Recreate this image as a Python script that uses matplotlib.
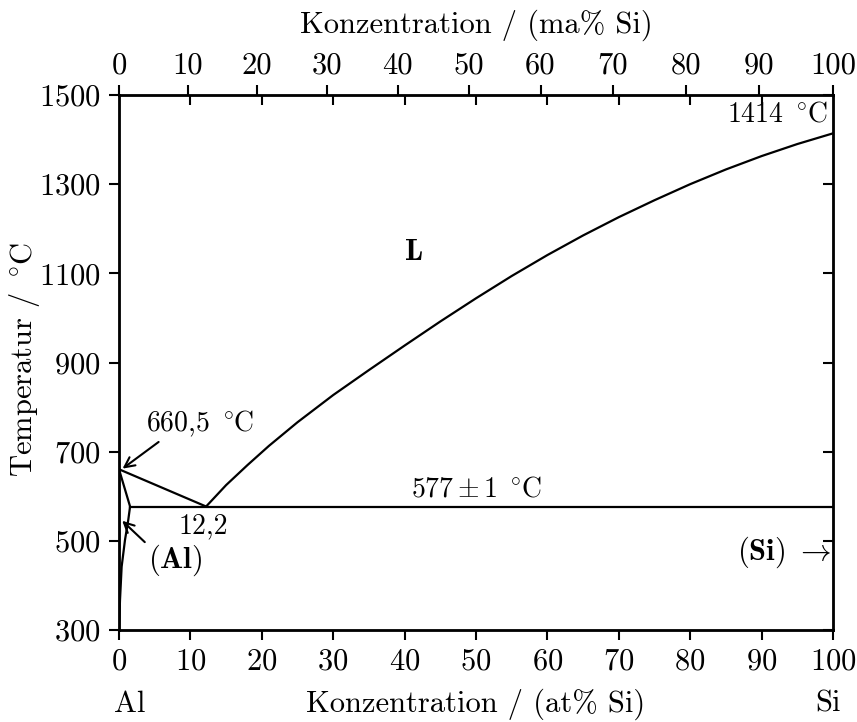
import numpy as np
from matplotlib import pyplot as plt

plt.rcParams['font.family'] = ['cmr10']
plt.rcParams['mathtext.fontset'] = 'cm'
plt.rcParams['axes.formatter.use_mathtext'] = True

# liquidus, Al side (at% Si, degC)
liq_al_x = [0, 12.2]
liq_al_t = [660.5, 577]
# liquidus, Si side
liq_si_x = [12.2, 15, 18, 21, 25, 30, 35, 40, 45, 50, 55, 60, 65, 70, 75, 80, 85, 90, 95, 100]
liq_si_t = [577, 625, 670, 713, 766, 827, 883, 938, 992, 1044, 1094, 1141, 1185, 1226,
            1264, 1300, 1333, 1363, 1390, 1414]
# solidus + solvus of (Al)
sol_x = [0, 1.55, 1.3, 0.84, 0.37, 0.14, 0]
sol_t = [660.5, 577, 547, 502, 442, 367, 300]
# eutectic line
eut_x = [1.55, 100]
eut_t = [577, 577]

at_ticks = list(range(0, 101, 10))
ma_ticks = list(range(0, 101, 10))
t_ticks = [300, 500, 700, 900, 1100, 1300, 1500]

M_AL, M_SI = 26.9815, 28.0855


def ma_to_at(w):
    w = np.asarray(w, dtype=float)
    n_si = w / M_SI
    n_al = (100 - w) / M_AL
    return 100 * n_si / (n_si + n_al)


fig = plt.figure(figsize=(8.57, 7.22), dpi=100)
ax = fig.add_axes([119/857, 1 - 630/722, 714/857, 535/722])

lw = 1.6
ax.plot(liq_al_x, liq_al_t, color='black', lw=lw)
ax.plot(liq_si_x, liq_si_t, color='black', lw=lw)
ax.plot(sol_x, sol_t, color='black', lw=lw)
ax.plot(eut_x, eut_t, color='black', lw=lw)

ax.set_xlim(0, 100)
ax.set_ylim(300, 1500)
ax.set_xticks(at_ticks)
ax.set_yticks(t_ticks)
fs = 22
ax.tick_params(axis='both', direction='out', length=7, width=1.5, labelsize=fs, pad=6)
for s in ax.spines.values():
    s.set_linewidth(2)

# top axis: mass percent
ax2 = ax.twiny()
ax2.set_xlim(0, 100)
ax2.set_xticks(ma_to_at(ma_ticks))
ax2.set_xticklabels([str(v) for v in ma_ticks])
ax2.set_xticks(at_ticks, minor=True)
ax2.tick_params(axis='x', which='major', direction='out', length=7, width=1.5, labelsize=fs, pad=4)
ax2.tick_params(axis='x', which='minor', direction='in', length=7, width=1.5)
ax2.set_xlabel('Konzentration / (ma% Si)', fontsize=fs, labelpad=14)

# right axis: inward ticks
ax3 = ax.twinx()
ax3.set_ylim(300, 1500)
ax3.set_yticks(t_ticks)
ax3.tick_params(axis='y', direction='in', length=7, width=1.5, labelright=False)

# axis labels
fig.text(25/857, 1 - 360/722, r'Temperatur / $^\circ\!$C', fontsize=fs,
         rotation=90, ha='center', va='center')
yb = 1 - 712/722
fig.text(476/857, yb, 'Konzentration / (at% Si)', fontsize=fs, ha='center', va='baseline')
fig.text(130/857, yb, 'Al', fontsize=fs, ha='center', va='baseline')
fig.text(828/857, yb, 'Si', fontsize=fs, ha='center', va='baseline')

# annotations
ax.annotate(r'660,5 $^\circ\!$C', xy=(0.5, 662), xytext=(3.8, 728), fontsize=fs - 2,
            ha='left', va='bottom',
            arrowprops=dict(arrowstyle='->', color='black', lw=1.5, shrinkA=0, shrinkB=0,
                            mutation_scale=18, relpos=(0.15, 0)))
ax.annotate(r'$(\mathbf{Al})$', xy=(0.45, 545), xytext=(4.0, 497), fontsize=fs,
            ha='left', va='top',
            arrowprops=dict(arrowstyle='->', color='black', lw=1.5, shrinkA=0, shrinkB=0,
                            mutation_scale=18, relpos=(-0.05, 1.0)))
ax.text(11.8, 562, '12,2', fontsize=fs - 2, ha='center', va='top')
ax.text(50, 586, r'$577 \pm 1\ ^\circ\!$C', fontsize=fs - 2, ha='center', va='bottom')
ax.text(41.2, 1148, r'$\mathbf{L}$', fontsize=fs, ha='center', va='center')
ax.text(99.2, 1428, r'1414 $^\circ\!$C', fontsize=fs - 2, ha='right', va='bottom')
ax.text(99.7, 475, r'$(\mathbf{Si})\ \rightarrow$', fontsize=fs, ha='right', va='center')

fig.savefig('out.png', dpi=100)
